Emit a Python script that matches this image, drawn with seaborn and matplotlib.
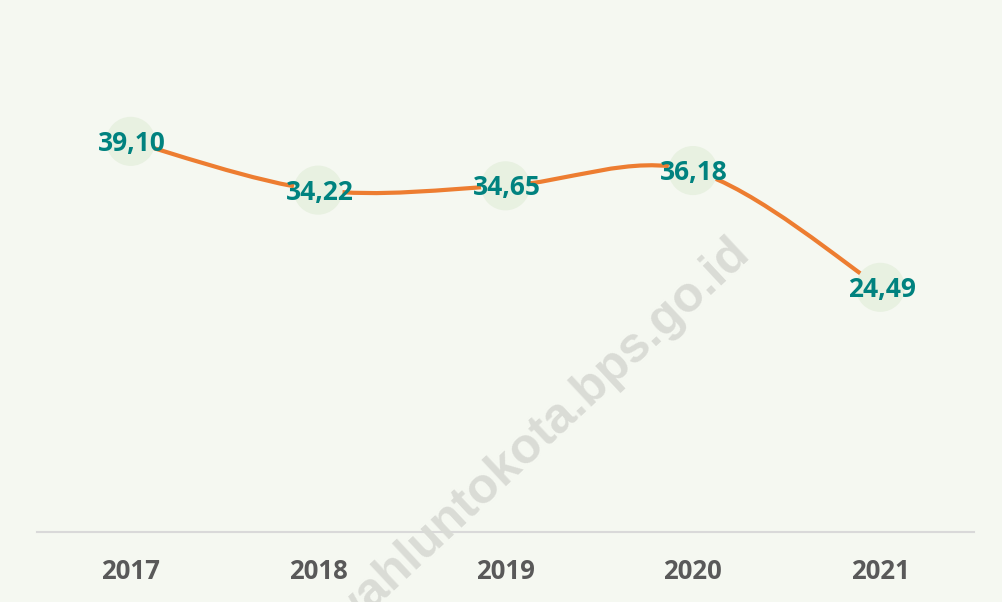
import numpy as np
import matplotlib
matplotlib.use("Agg")
import matplotlib.pyplot as plt
from matplotlib.path import Path
from matplotlib.patches import PathPatch
import seaborn as sns

# data
years = ["2017", "2018", "2019", "2020", "2021"]
values = [39.10, 34.22, 34.65, 36.18, 24.49]
labels = ["39,10", "34,22", "34,65", "36,18", "24,49"]

bg = "#F5F8F1"
sns.set_theme(style="white", rc={"axes.facecolor": bg, "figure.facecolor": bg})
plt.rcParams["font.family"] = ["Open Sans", "DejaVu Sans"]

fig = plt.figure(figsize=(10.03, 6.02), dpi=100)
ax = fig.add_axes([37 / 1003, 70 / 602, 937 / 1003, 532 / 602])

xs = np.arange(len(years))

# smooth line (Excel style bezier through the points)
verts = [(xs[0], values[0])]
codes = [Path.MOVETO]
n = len(xs)
for i in range(n - 1):
    p0 = np.array([xs[max(i - 1, 0)], values[max(i - 1, 0)]])
    p1 = np.array([xs[i], values[i]])
    p2 = np.array([xs[i + 1], values[i + 1]])
    p3 = np.array([xs[min(i + 2, n - 1)], values[min(i + 2, n - 1)]])
    c1 = p1 + (p2 - p0) / 6
    c2 = p2 - (p3 - p1) / 6
    verts += [tuple(c1), tuple(c2), tuple(p2)]
    codes += [Path.CURVE4] * 3
ax.add_patch(PathPatch(Path(verts, codes), facecolor="none", edgecolor="#ED7D31",
                       lw=3, capstyle="butt", zorder=2))

# circle markers
sns.scatterplot(x=xs, y=values, s=1250, color="#E8F1E1", edgecolor="none",
                ax=ax, zorder=3, legend=False)

for x, v, t in zip(xs, values, labels):
    ax.annotate(t, (x, v), xytext=(1, -1.5), textcoords="offset points",
                ha="center", va="center", fontsize=19, fontweight="bold",
                color="#00827F", zorder=4)

ax.set_xlim(-0.5, 4.5)
ax.set_ylim(0, 53.25)
ax.set_xticks(xs)
ax.set_xticklabels(years, fontsize=18.5, fontweight="bold", color="#595959")
ax.set_yticks([])
ax.tick_params(axis="x", length=0, pad=19)
for side in ["top", "left", "right"]:
    ax.spines[side].set_visible(False)
ax.spines["bottom"].set_color("#D9D9D9")
ax.spines["bottom"].set_linewidth(1.5)

# watermark
fig.text(743 / 1003, 1 - 246 / 602, "sawahluntokota.bps.go.id", rotation=43,
         rotation_mode="anchor", ha="right", va="center", fontsize=36,
         fontweight="bold", color="#DADCD6", family=["Liberation Sans", "DejaVu Sans"],
         zorder=1)

fig.savefig("out.png", dpi=100, facecolor=bg)
